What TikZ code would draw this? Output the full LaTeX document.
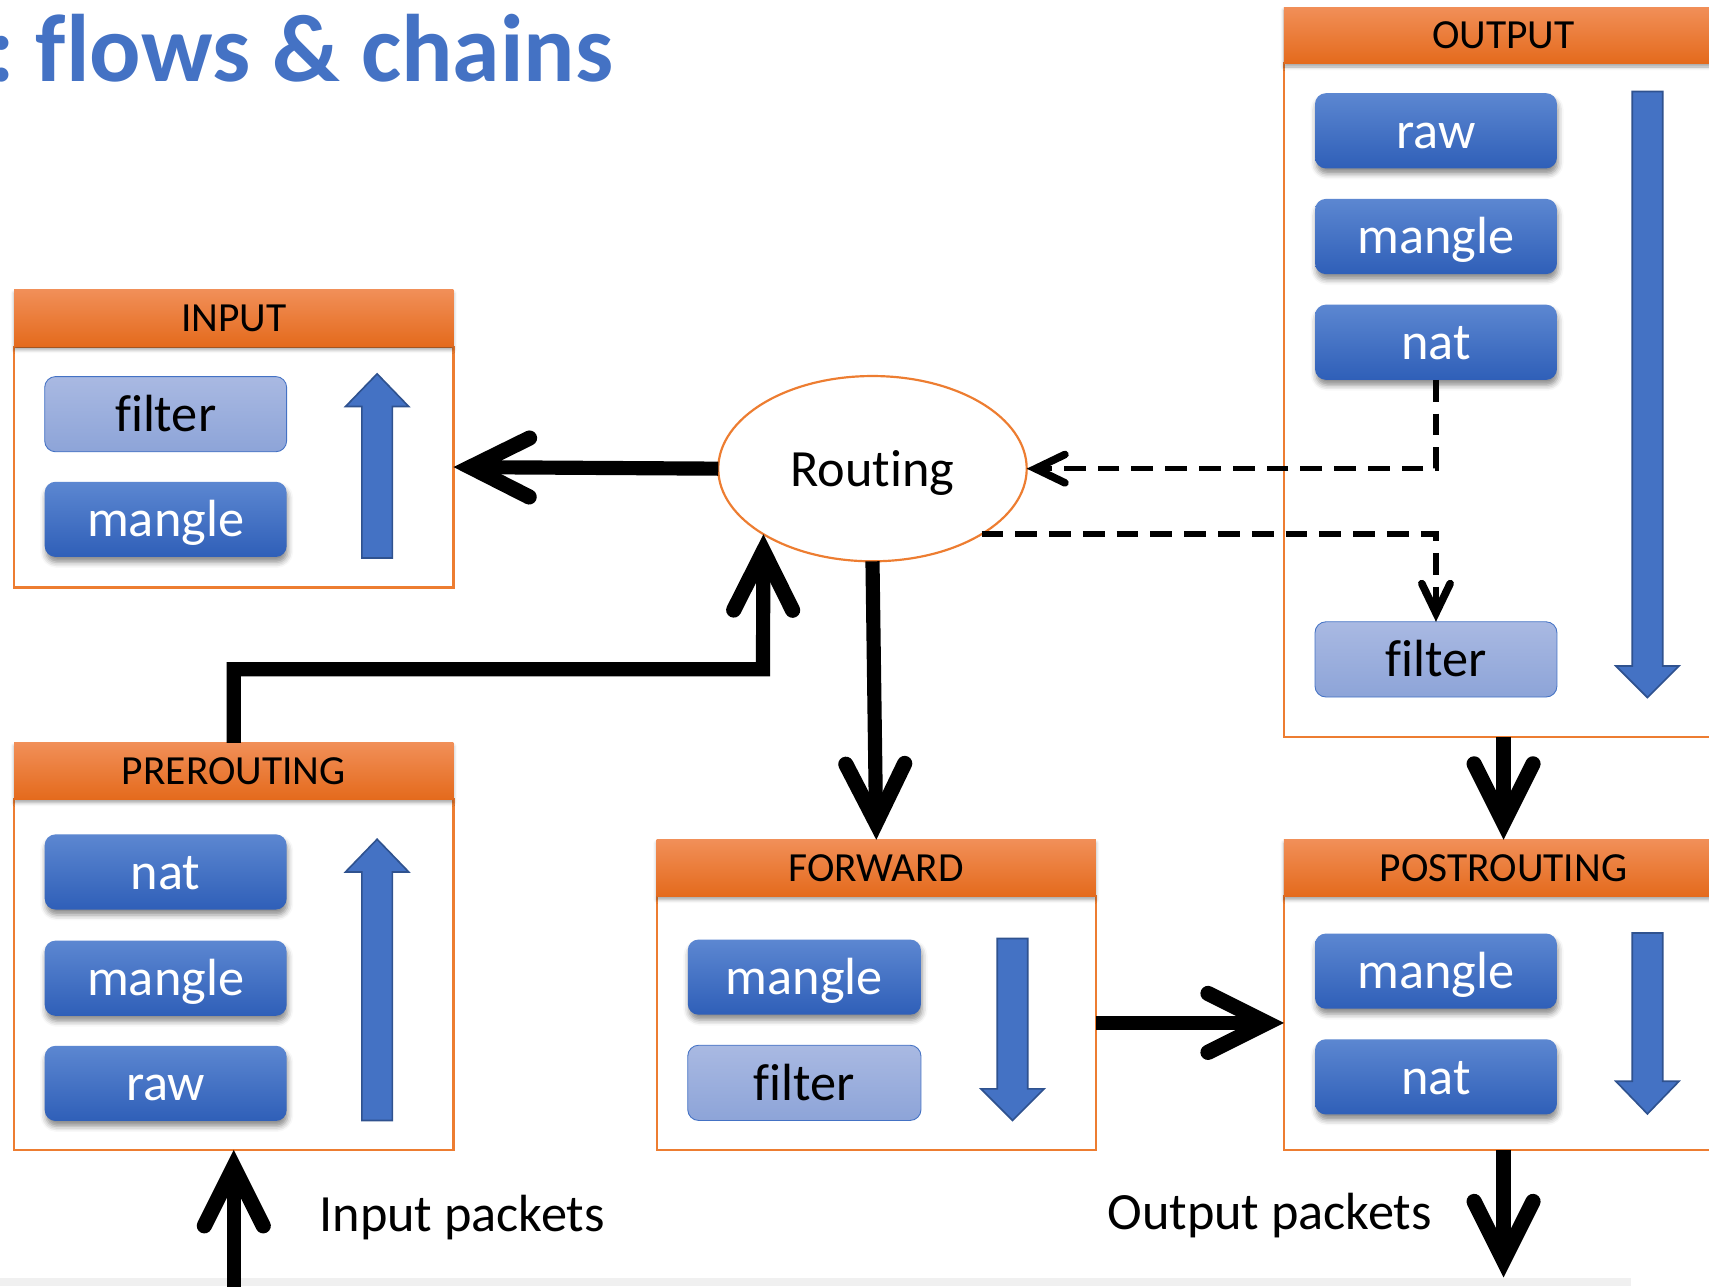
\documentclass[tikz,border=0pt]{standalone}
\usepackage{fontspec}
\setmainfont{Carlito}[Ligatures=NoCommon]
\usepackage{tikz}
\usetikzlibrary{shapes.geometric,% ellipse for the routing decision
arrows.meta,%                     barbed heads on the packet paths
shadows.blur}
\definecolor{accentblue}{RGB}{68,114,196}
\definecolor{accentorange}{RGB}{237,125,49}
\definecolor{arrowedge}{RGB}{47,82,143}
\definecolor{tbltop}{RGB}{92,135,209}
\definecolor{tblbot}{RGB}{47,95,184}
\definecolor{lighttop}{RGB}{169,185,226}
\definecolor{lightbot}{RGB}{141,164,216}
\definecolor{headtop}{RGB}{241,143,88}
\definecolor{headbot}{RGB}{228,106,28}
\definecolor{stripgrey}{RGB}{240,240,240}
\tikzset{every node/.style={font=\fontsize{48}{56}\selectfont, inner sep=0pt, outer sep=0pt},
  chainhead/.style={rectangle, minimum width=403pt, minimum height=52pt,
    top color=headtop, bottom color=headbot, text depth=0pt,
    font=\fontsize{38}{44}\selectfont,
    blur shadow={shadow xshift=0pt, shadow yshift=-3pt, shadow blur radius=3pt, shadow opacity=35}},
  chainbody/.style={rectangle, draw=accentorange, line width=2pt, minimum width=403pt},
  tblbase/.style={rectangle, rounded corners=10pt, minimum width=222pt, minimum height=69pt,
    text height=32pt, text depth=0pt},
  tbl/.style={tblbase, top color=tbltop, bottom color=tblbot, text=white,
    blur shadow={shadow xshift=1pt, shadow yshift=-5pt, shadow blur radius=5pt, shadow opacity=45}},
  tbllight/.style={tblbase, top color=lighttop, bottom color=lightbot, draw=accentblue, line width=0.8pt},
  routing/.style={ellipse, draw=accentorange, line width=2pt, fill=white,
    minimum width=283pt, minimum height=170pt, text height=32pt, text depth=0pt},
  pktflow/.style={line width=13pt,
    -{Straight Barb[length=54pt, width=54pt, line width=14pt, line cap=round, line join=miter]}},
  pktdash/.style={line width=5pt, dash pattern=on 20pt off 11pt,
    -{Straight Barb[length=27pt, width=26pt, line width=7pt, line cap=round, line join=miter]}},
  bigarrow/.style={fill=accentblue, draw=arrowedge, line width=1.5pt}}
% block arrow: #1 = x, #2 = tail, #3 = base of head, #4 = tip
\newcommand{\blockarrow}[4]
{\draw[bigarrow] (#1-14,#2) -- (#1+14,#2) -- (#1+14,#3) -- (#1+29,#3)
   -- (#1,#4) -- (#1-29,#3) -- (#1-14,#3) -- cycle;}
\begin{document}
\begin{tikzpicture}[x=1pt,y=-1pt]
  \useasboundingbox (0,0) rectangle (1568,1180);
  \clip (0,0) rectangle (1568,1180);
  \fill[stripgrey] (0,1173) rectangle (1496,1180);
  \node[anchor=base east, text=accentblue, font=\fontsize{88}{96}\selectfont\bfseries]
    (title) at (563,75) {:\kern-7pt{} flows \& chains};

  \node[chainbody, minimum height=221pt] (input) at (214.5,428.5) {};
  \node[chainhead] (inputhead) at (214.5,292) {INPUT};
  \node[tbllight] (infilter) at (152,380) {filter};
  \node[tbl] (inmangle) at (152,476.5) {mangle};
  \blockarrow{346}{512}{373}{343}

  \node[chainbody, minimum height=322pt] (pre) at (214.5,894) {};
  \node[chainhead] (prehead) at (214.5,707.5) {PREROUTING};
  \node[tbl] (prenat) at (152,800) {nat};
  \node[tbl] (premangle) at (152,897.5) {mangle};
  \node[tbl] (preraw) at (152,994) {raw};
  \blockarrow{346}{1028}{800}{770}

  \node[chainbody, minimum height=233pt] (fwd) at (804,938.5) {};
  \node[chainhead] (fwdhead) at (804,796.5) {FORWARD};
  \node[tbl, minimum width=214pt] (fwdmangle) at (738,896.5) {mangle};
  \node[tbllight, minimum width=214pt] (fwdfilter) at (738,993.5) {filter};
  \blockarrow{929}{861}{999}{1028}

  \node[chainbody, minimum height=618pt] (output) at (1379.5,367) {};
  \node[chainhead] (outhead) at (1379.5,32.5) {OUTPUT};
  \node[tbl] (outraw) at (1317.5,120) {raw};
  \node[tbl] (outmangle) at (1317.5,217) {mangle};
  \node[tbl] (outnat) at (1317.5,314) {nat};
  \node[tbllight] (outfilter) at (1317.5,605) {filter};
  \blockarrow{1511.5}{84}{611}{640}

  \node[chainbody, minimum height=233pt] (post) at (1379.5,938.5) {};
  \node[chainhead] (posthead) at (1379.5,796.5) {POSTROUTING};
  \node[tbl] (postmangle) at (1317.5,891) {mangle};
  \node[tbl] (postnat) at (1317.5,988) {nat};
  \blockarrow{1511.5}{856}{992}{1022}

  \node[routing] (routing) at (800.5,430) {Routing};

  \coordinate (rtbend) at (700,614);
  \coordinate (inpkt) at (214.5,1195);
  \coordinate (outpkt) at (1379.5,1172);
  \draw[pktflow] (routing.west) -- (input.east);
  \draw[pktflow] (prehead.north) |- (rtbend) -- (routing.-149);
  \draw[pktflow] (routing.south) -- (fwdhead.north);
  \draw[pktflow] (fwd.east) -- (post.west);
  \draw[pktflow] (output.south) -- (posthead.north);
  \draw[pktflow] (inpkt) -- (pre.south);
  \draw[pktflow] (post.south) -- (outpkt);
  \draw[pktdash] (outnat.south) |- (routing.east);
  \draw[pktdash] (routing.-31) -| (outfilter.north);

  \node[anchor=base west] (inlabel) at (293,1130) {Input packets};
  \node[anchor=base west] (outlabel) at (1016,1128) {Output packets};
\end{tikzpicture}
\end{document}
